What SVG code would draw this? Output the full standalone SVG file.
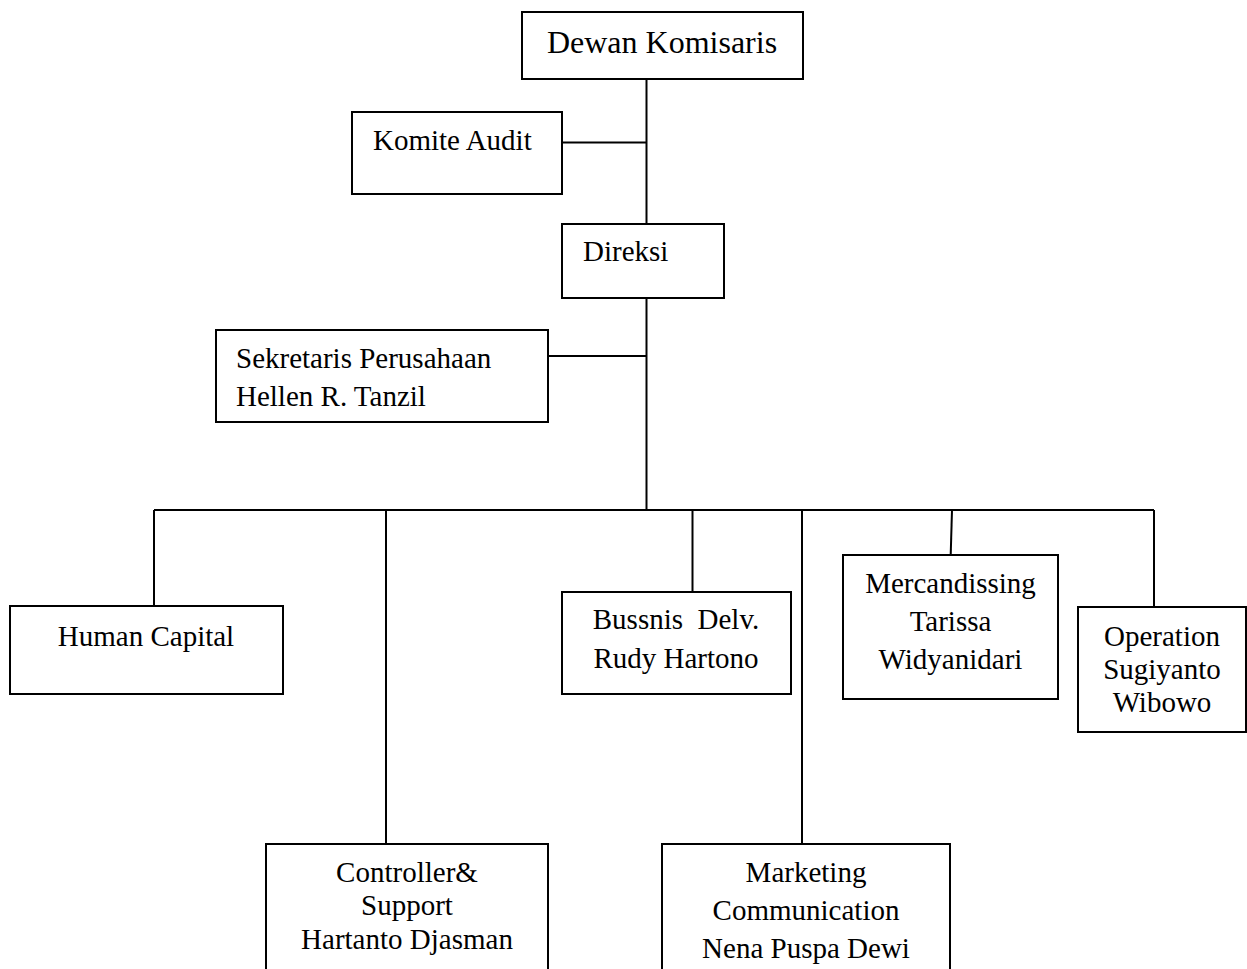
<svg xmlns="http://www.w3.org/2000/svg" width="1247" height="969" viewBox="0 0 1247 969">
<style>
.box{fill:#fff;stroke:#000;stroke-width:2}
.ln{fill:none;stroke:#000;stroke-width:2}
text{font-family:"Liberation Serif","Times New Roman",serif;font-size:29px;fill:#000}
.c{text-anchor:middle}
</style>
<rect width="1247" height="969" fill="#fff"/>
<g id="connectors">
<path class="ln" d="M646.5 79 V224"/>
<path class="ln" d="M562 142.5 H646.5"/>
<path class="ln" d="M646.5 298 V510"/>
<path class="ln" d="M548 356 H646.5"/>
<path class="ln" d="M154 510 H1154"/>
<path class="ln" d="M154 510 V606"/>
<path class="ln" d="M386 510 V844"/>
<path class="ln" d="M692.5 510 V592"/>
<path class="ln" d="M802 510 V844"/>
<path class="ln" d="M952 510 L950.7 555"/>
<path class="ln" d="M1154 510 V607"/>
</g>
<g id="dewan-komisaris">
<rect class="box" x="522" y="12" width="281" height="67"/>
<text class="c" x="662" y="53" style="font-size:32px">Dewan Komisaris</text>
</g>
<g id="komite-audit">
<rect class="box" x="352" y="112" width="210" height="82"/>
<text x="373" y="150">Komite Audit</text>
</g>
<g id="direksi">
<rect class="box" x="562" y="224" width="162" height="74"/>
<text x="583" y="261">Direksi</text>
</g>
<g id="sekretaris">
<rect class="box" x="216" y="330" width="332" height="92"/>
<text x="236" y="368">Sekretaris Perusahaan</text>
<text x="236" y="406">Hellen R. Tanzil</text>
</g>
<g id="human-capital">
<rect class="box" x="10" y="606" width="273" height="88"/>
<text class="c" x="146" y="646">Human Capital</text>
</g>
<g id="bussnis-delv">
<rect class="box" x="562" y="592" width="229" height="102"/>
<text class="c" x="676" y="629" xml:space="preserve">Bussnis  Delv.</text>
<text class="c" x="676" y="668">Rudy Hartono</text>
</g>
<g id="mercandissing">
<rect class="box" x="843" y="555" width="215" height="144"/>
<text class="c" x="950.5" y="593">Mercandissing</text>
<text class="c" x="950.5" y="631">Tarissa</text>
<text class="c" x="950.5" y="669">Widyanidari</text>
</g>
<g id="operation">
<rect class="box" x="1078" y="607" width="168" height="125"/>
<text class="c" x="1162" y="646">Operation</text>
<text class="c" x="1162" y="679">Sugiyanto</text>
<text class="c" x="1162" y="712">Wibowo</text>
</g>
<g id="controller-support">
<rect class="box" x="266" y="844" width="282" height="140"/>
<text class="c" x="407" y="882">Controller&amp;</text>
<text class="c" x="407" y="915">Support</text>
<text class="c" x="407" y="949">Hartanto Djasman</text>
</g>
<g id="marketing-communication">
<rect class="box" x="662" y="844" width="288" height="140"/>
<text class="c" x="806" y="882">Marketing</text>
<text class="c" x="806" y="920">Communication</text>
<text class="c" x="806" y="958">Nena Puspa Dewi</text>
</g>
</svg>
